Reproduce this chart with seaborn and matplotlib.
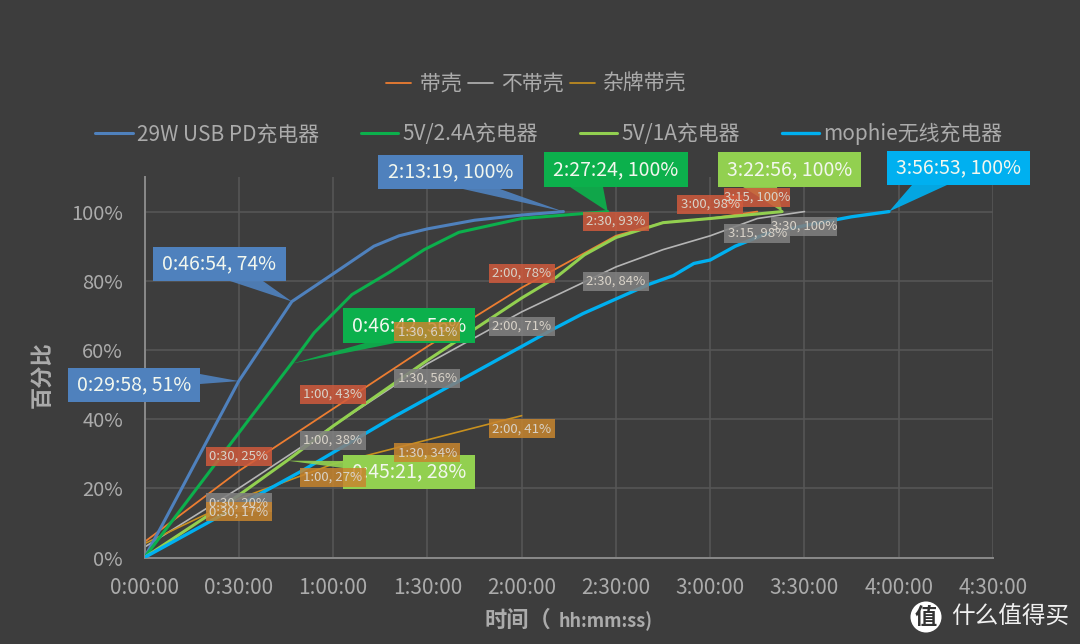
import matplotlib
matplotlib.use('Agg')
import matplotlib.pyplot as plt
from matplotlib.patches import Rectangle, Polygon, Circle
from matplotlib.transforms import Affine2D
import seaborn as sns

# time in minutes, charge in %
pd29_t = [0, 6, 30, 46.9, 60, 73, 81, 90, 105, 120, 133.3]
pd29_v = [0, 10, 51, 74, 82, 90, 93, 95, 97.5, 99, 100]
a24_t = [0, 33, 46.7, 54, 66, 78, 89, 100, 120, 147.4]
a24_v = [0, 39.6, 56, 65, 76, 82.5, 89, 94, 98, 100]
a1_t = [0, 30, 45.35, 60, 90, 120, 131, 140, 150, 165, 180, 202.9]
a1_v = [0, 18, 28, 38, 57, 75, 81, 87.5, 92.5, 96.8, 98, 100]
mophie_t = [0, 30, 50, 79, 90, 110, 120, 130, 139.5, 160.6, 168.3, 174.8, 180, 188, 197.6, 210.3, 225, 236.9]
mophie_v = [0, 15, 25, 40.5, 46, 56, 61, 66, 70.5, 79, 81.5, 85, 86, 90, 93.5, 96, 98.5, 100]
case_t = [0, 30, 60, 90, 120, 150, 165, 180, 195]
case_v = [4.5, 25, 43, 61, 78, 93, 96.8, 98, 100]
nocase_t = [0, 30, 60, 90, 120, 150, 165, 180, 195, 210]
nocase_v = [3, 20, 38, 56, 71, 84, 89, 93, 98, 100]
other_t = [0, 30, 60, 90, 120]
other_v = [4, 17, 27, 34, 41]

x_ticks = [0, 30, 60, 90, 120, 150, 180, 210, 240, 270]
x_tick_labels = ['0:00:00', '0:30:00', '1:00:00', '1:30:00', '2:00:00', '2:30:00', '3:00:00', '3:30:00', '4:00:00', '4:30:00']
y_ticks = [0, 20, 40, 60, 80, 100]

case_labels = ['0:30, 25%', '1:00, 43%', '1:30, 61%', '2:00, 78%', '2:30, 93%', '3:00, 98%', '3:15, 100%']
nocase_labels = ['0:30, 20%', '1:00, 38%', '1:30, 56%', '2:00, 71%', '2:30, 84%', '3:15, 98%', '3:30, 100%']
other_labels = ['0:30, 17%', '1:00, 27%', '1:30, 34%', '2:00, 41%']

BG = '#3d3d3d'
TXT = '#ababab'
BLUE = '#4f81bd'
GREEN = '#0cb04c'
LIME = '#92d050'
SKY = '#00b0f0'
ORANGE = '#ed7d31'
GRAY = '#b5b5b5'
GOLD = '#c8901e'

sns.set_theme(style='dark')
plt.rcParams['font.family'] = ['Noto Sans CJK SC', 'DejaVu Sans']

fig = plt.figure(figsize=(10.8, 6.44), dpi=100, facecolor=BG)
ax = fig.add_axes([144.5 / 1080, 1 - 557.5 / 644, (993 - 144.5) / 1080, (557.5 - 177) / 644], facecolor=BG)

sns.lineplot(x=case_t, y=case_v, color=ORANGE, lw=1.3, ax=ax, label='带壳', estimator=None, sort=False, zorder=2)
sns.lineplot(x=nocase_t, y=nocase_v, color=GRAY, lw=1.2, ax=ax, label='不带壳', estimator=None, sort=False, zorder=2)
sns.lineplot(x=other_t, y=other_v, color=GOLD, lw=1.2, ax=ax, label='杂牌带壳', estimator=None, sort=False, zorder=2)
sns.lineplot(x=pd29_t, y=pd29_v, color=BLUE, lw=2.2, ax=ax, label='29W USB PD充电器', estimator=None, sort=False, zorder=3)
sns.lineplot(x=a24_t, y=a24_v, color=GREEN, lw=2.2, ax=ax, label='5V/2.4A充电器', estimator=None, sort=False, zorder=3)
sns.lineplot(x=a1_t, y=a1_v, color=LIME, lw=2.2, ax=ax, label='5V/1A充电器', estimator=None, sort=False, zorder=3)
sns.lineplot(x=mophie_t, y=mophie_v, color=SKY, lw=2.4, ax=ax, label='mophie无线充电器', estimator=None, sort=False, zorder=4)

ax.set_xlim(0, 270)
ax.set_ylim(0, 110)
ax.set_xticks(x_ticks, x_tick_labels)
ax.set_yticks(y_ticks, [f'{v}%' for v in y_ticks])
ax.tick_params(colors=TXT, length=0)
ax.tick_params(axis='x', labelsize=15, pad=14)
ax.tick_params(axis='y', labelsize=14.5, pad=15.5)
ax.grid(True, color='#565656', lw=1.2)
ax.set_axisbelow(True)
sns.despine(ax=ax, top=True, right=True)
for s in ['left', 'bottom']:
    ax.spines[s].set_color('#8a8a8a')
    ax.spines[s].set_linewidth(1.4)

lines = ax.get_lines()[:7]
names = [l.get_label() for l in lines]
ax.get_legend().remove()
fig.legend(lines[:3], names[:3], ncols=3, loc='center', bbox_to_anchor=(536.5 / 1080, 1 - 84 / 644), frameon=False,
           fontsize=15, labelcolor=TXT, handlelength=1.2, handletextpad=0.4, columnspacing=0.3)
fig.legend(lines[3:], names[3:], ncols=4, loc='center', bbox_to_anchor=(549 / 1080, 1 - 134 / 644), frameon=False,
           fontsize=15, labelcolor=TXT, handlelength=1.8, handletextpad=0.2, columnspacing=2.0)

# image pixel coordinates, origin top left
px = Affine2D().scale(1, -1).translate(0, 644)


def to_px(t, v):
    xp, yp = ax.transData.transform((t, v))
    return xp, 644 - yp


def callout(x0, x1, y0, y1, poly, color, text):
    fig.add_artist(Polygon(poly, closed=True, fc=color, ec='none', alpha=0.92, transform=px, zorder=5))
    fig.add_artist(Rectangle((x0, y0), x1 - x0, y1 - y0, fc=color, ec='none', transform=px, zorder=5))
    fig.text((x0 + x1) / 2, (y0 + y1) / 2, text, color='#f2f7ee', fontsize=14, ha='center', va='center',
             transform=px, zorder=5.5)


def small_label(t, v, dy, color, text, alpha=0.85):
    xp, yp = to_px(t, v)
    fig.add_artist(Rectangle((xp - 33, yp + dy - 9.5), 66, 19, fc=color, ec='none', alpha=alpha, transform=px, zorder=6))
    fig.text(xp, yp + dy, text, color='#d8d2c8', fontsize=9.5, ha='center', va='center', transform=px, zorder=6.5)


callout(378, 523, 155, 189, [(463, 189), (500, 189), to_px(133.3, 100)], BLUE, '2:13:19, 100%')
callout(153, 286, 247, 281, [(230, 281), (263, 281), to_px(46.9, 74)], BLUE, '0:46:54, 74%')
callout(68, 200, 368, 402, [(200, 374), (200, 384), to_px(30, 51)], BLUE, '0:29:58, 51%')
callout(343, 475, 308, 343, [(365, 343), (395, 343), to_px(46.7, 56)], GREEN, '0:46:42, 56%')
callout(343, 475, 455, 489, [(343, 461), (343, 468), to_px(45.35, 28)], LIME, '0:45:21, 28%')
callout(544, 688, 152, 187, [(570, 187), (603, 187), to_px(147.4, 100)], GREEN, '2:27:24, 100%')
callout(718, 861, 152, 187, [(743, 187), (777, 187), to_px(202.9, 100)], LIME, '3:22:56, 100%')
callout(887, 1030, 151, 185, [(912, 185), (947, 185), to_px(236.9, 100)], SKY, '3:56:53, 100%')

for t, v, s in zip(case_t[1:6] + [180, 195], [25, 43, 61, 78, 93, 98, 100], case_labels):
    c = '#c8852e' if s.startswith('1:30') else '#d05a3c'
    small_label(t, v, -14.5, c, s)
for t, v, s in zip([30, 60, 90, 120, 150, 195, 210], [20, 38, 56, 71, 84, 98, 100], nocase_labels):
    small_label(t, v, 14.5, '#808080', s, alpha=0.88)
for t, v, s in zip(other_t[1:], other_v[1:], other_labels):
    small_label(t, v, 13, '#c8852e', s)

fig.text(485 / 1080, 1 - 620 / 644, '时间（', color=TXT, fontsize=16, fontweight='bold', ha='left', va='center')
fig.text(653 / 1080, 1 - 621 / 644, 'hh:mm:ss)', color=TXT, fontsize=13, fontweight='bold', ha='right', va='center')
fig.text(42 / 1080, 1 - 375 / 644, '百分比', color=TXT, fontsize=16, fontweight='bold', rotation=90, ha='center', va='center')

fig.add_artist(Circle((926, 617), 15.5, fc='white', ec='none', transform=px))
fig.text(926 / 1080, 1 - 617 / 644, '值', color='#333333', fontsize=16, fontweight='bold', ha='center', va='center')
fig.text(1010 / 1080, 1 - 617 / 644, '什么值得买', color='#f0f0f0', fontsize=17, ha='center', va='center')

fig.savefig('out.png', dpi=100, facecolor=BG)
